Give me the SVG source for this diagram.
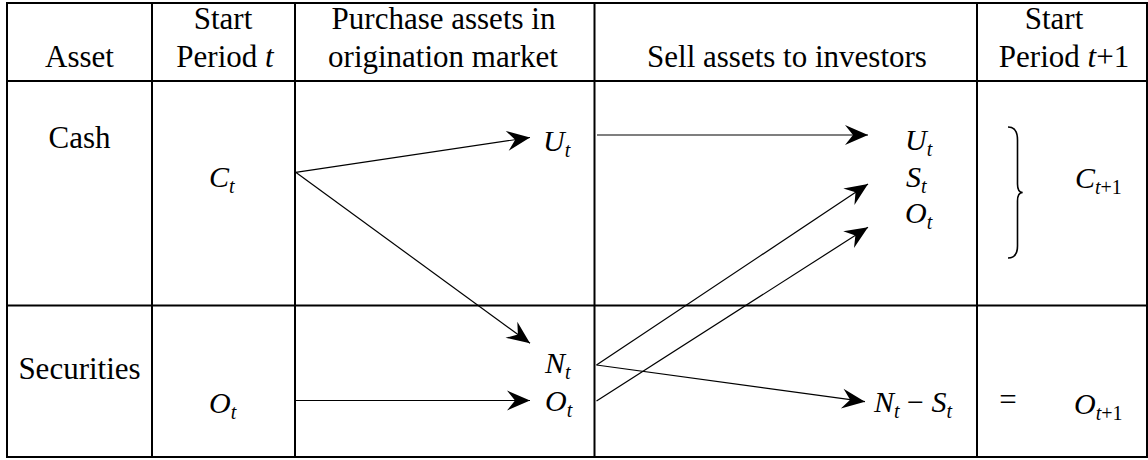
<svg xmlns="http://www.w3.org/2000/svg" width="1148" height="460" viewBox="0 0 1148 460">
<style>
  .grid { stroke: #000; stroke-width: 2; fill: none; }
  .tx { font-family: "Liberation Serif", "Times New Roman", Times, "DejaVu Serif", serif; font-size: 31px; fill: #000; }
  .m { font-size: 30px; font-style: italic; }
  .c { text-anchor: middle; }
  .i { font-style: italic; }
  .n { font-style: normal; }
  .s { font-size: 20px; }
  .conn { stroke: #000; stroke-width: 1.2; fill: none; marker-end: url(#ah); }
  .brace { stroke: #000; stroke-width: 1.6; fill: none; }
</style>
<defs>
  <marker id="ah" markerUnits="userSpaceOnUse" viewBox="-24 -11 25 22" refX="0" refY="0" markerWidth="25" markerHeight="22" orient="auto">
    <path d="M0,0 L-23,-10 L-15,0 L-23,10 Z" fill="#000"/>
  </marker>
</defs>
<rect width="1148" height="460" fill="#fff"/>
<g id="table" class="grid">
  <rect x="7" y="3" width="1140" height="454"/>
  <line x1="7" y1="81" x2="1147" y2="81"/>
  <line x1="7" y1="305.5" x2="1147" y2="305.5"/>
  <line x1="152" y1="3" x2="152" y2="457"/>
  <line x1="295" y1="3" x2="295" y2="457"/>
  <line x1="594.5" y1="3" x2="594.5" y2="457"/>
  <line x1="977" y1="3" x2="977" y2="457"/>
</g>
<g id="headers">
  <text id="h-asset" class="tx c" x="79.5" y="67">Asset</text>
  <text id="h-start1" class="tx c" x="223" y="28.5">Start</text>
  <text id="h-period1" class="tx c" x="225" y="67">Period <tspan class="i">t</tspan></text>
  <text id="h-purchase1" class="tx c" x="443.5" y="28.5">Purchase assets in</text>
  <text id="h-purchase2" class="tx c" x="443" y="67">origination market</text>
  <text id="h-sell" class="tx c" x="787" y="67">Sell assets to investors</text>
  <text id="h-start2" class="tx c" x="1054" y="28.5">Start</text>
  <text id="h-period2" class="tx c" x="1064" y="67">Period <tspan class="i">t</tspan>+1</text>
</g>
<g id="n-cash"><text class="tx c" x="79.5" y="148">Cash</text></g>
<g id="n-securities"><text class="tx c" x="79.5" y="379">Securities</text></g>
<g id="n-ct"><text class="tx m" x="209" y="187">C<tspan class="s" dy="6">t</tspan></text></g>
<g id="n-ot0"><text class="tx m" x="209" y="413">O<tspan class="s" dy="6">t</tspan></text></g>
<g id="n-ut1"><text class="tx m" x="543" y="151">U<tspan class="s" dy="6">t</tspan></text></g>
<g id="n-nt1"><text class="tx m" x="545" y="373">N<tspan class="s" dy="6">t</tspan></text></g>
<g id="n-ot1"><text class="tx m" x="545" y="411">O<tspan class="s" dy="6">t</tspan></text></g>
<g id="n-ut2"><text class="tx m" x="905" y="150">U<tspan class="s" dy="6">t</tspan></text></g>
<g id="n-st2"><text class="tx m" x="906" y="187">S<tspan class="s" dy="6">t</tspan></text></g>
<g id="n-ot2"><text class="tx m" x="905" y="223">O<tspan class="s" dy="6">t</tspan></text></g>
<g id="n-nmins"><text class="tx m" x="874" y="412">N<tspan class="s" dy="6">t</tspan><tspan class="n" dy="-6"> − </tspan>S<tspan class="s" dy="6">t</tspan></text></g>
<g id="n-brace"><path class="brace" d="M1008,127 C1014,127 1017.5,131 1017.5,140 L1017.5,184 C1017.5,190 1020,192.5 1022.7,192.5 C1020,192.5 1017.5,195 1017.5,201 L1017.5,246 C1017.5,254 1014,258 1008,258"/></g>
<g id="n-ct1"><text class="tx m" x="1075" y="188">C<tspan class="s" dy="6">t</tspan><tspan class="s n">+1</tspan></text></g>
<g id="n-eq"><text class="tx c" x="1008" y="410">=</text></g>
<g id="n-ot1b"><text class="tx m" x="1074" y="414">O<tspan class="s" dy="6">t</tspan><tspan class="s n">+1</tspan></text></g>
<g id="connectors">
  <line class="conn" x1="295.7" y1="172.3" x2="530" y2="137.5"/>
  <line class="conn" x1="295.7" y1="172.3" x2="530" y2="343.3"/>
  <line class="conn" x1="296" y1="400.5" x2="530" y2="400.5"/>
  <line class="conn" x1="597" y1="135" x2="868" y2="135"/>
  <line class="conn" x1="596.5" y1="365" x2="868" y2="184"/>
  <line class="conn" x1="596.5" y1="401" x2="868" y2="227.3"/>
  <line class="conn" x1="596.5" y1="365" x2="865" y2="401.7"/>
</g>
</svg>
